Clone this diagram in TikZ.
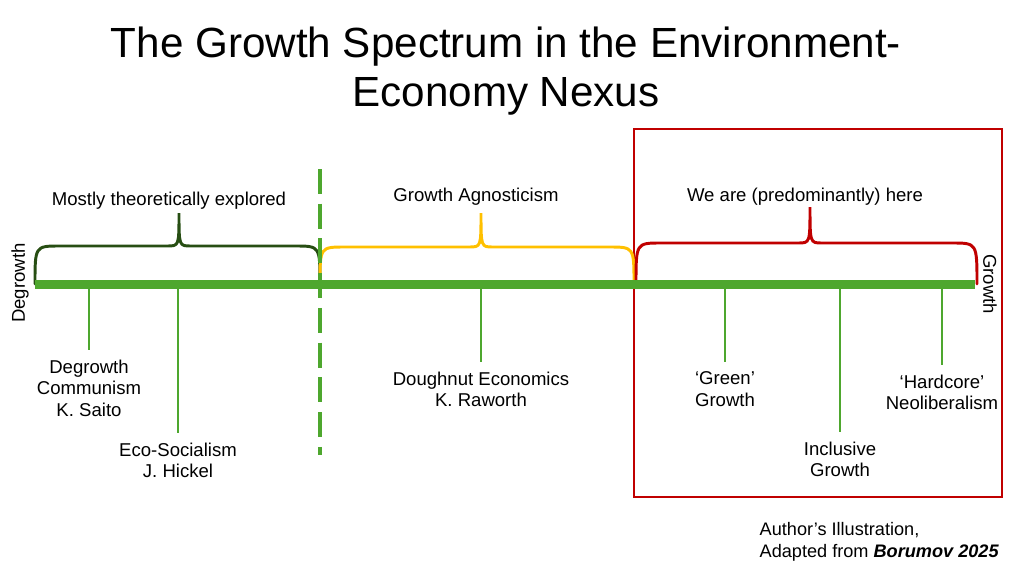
\documentclass[tikz,border=0pt]{standalone}
\usepackage{fontspec}
\setmainfont{Liberation Sans}
\usetikzlibrary{positioning}
\definecolor{axisGreen}{RGB}{78,167,46}
\definecolor{darkGreen}{RGB}{39,78,19}
\definecolor{agnosticYellow}{RGB}{255,192,0}
\definecolor{hereRed}{RGB}{192,0,0}
\tikzstyle{spectrum} = [x = 0.025cm, y = -0.025cm]
\tikzstyle{axisLine} = [color=axisGreen, line width=6.4pt]
\tikzstyle{splitLine} = [color=axisGreen, line width=2.6pt, dash pattern=on 17.7pt off 7pt]
\tikzstyle{tickLine} = [color=axisGreen, line width=1.1pt]
\tikzstyle{braceLine} = [line width=2.1pt, line cap=round]
\tikzstyle{hereBox} = [color=hereRed, line width=1.8pt]
\tikzstyle{labelText} = [font=\fontsize{13.2}{15.4}\selectfont, align=center, inner sep=1pt]
\tikzstyle{titleText} = [font=\fontsize{30}{35.4}\selectfont, align=center]
\newcommand{\spanBrace}[6]{\draw [braceLine, color=#1] (#2,284) .. controls (#2,#5) .. (#2+25,#5) -- (#4-12,#5) .. controls (#4,#5) .. (#4,#6) .. controls (#4,#5) .. (#4+12,#5) -- (#3-25,#5) .. controls (#3,#5) .. (#3,284);}
\newcommand{\tickLabel}[4]{
  \coordinate (#1Tick) at (#2,288);
  \coordinate (#1Top) at (#2,#3);
  \node [labelText, below=0.2cm of #1Top] (#1) {#4};
  \draw [tickLine] (#1Tick) -- (#1Top);
}
\begin{document}
\begin{tikzpicture}[spectrum]
  \useasboundingbox (0,0) rectangle (1012,566);
  \node [titleText] (title) at (506,71) {The Growth Spectrum in the Environment-\\Economy Nexus};

  % spectrum axis
  \coordinate (axisStart) at (35,284);
  \coordinate (axisEnd) at (975,284);
  \coordinate (splitTop) at (320,169);
  \coordinate (splitBottom) at (320,455);
  \draw [hereBox] (634,129) rectangle (1002,497);
  \spanBrace{darkGreen}{35}{320}{179}{246}{213}
  \spanBrace{agnosticYellow}{320}{634}{481}{247}{213}
  \spanBrace{hereRed}{636}{977}{810}{243}{207}
  \draw [axisLine] (axisStart) -- (axisEnd);
  \draw [splitLine] (splitTop) -- (splitBottom);

  \node [labelText] (mostly) at (169,201) {Mostly theoretically explored};
  \node [labelText] (agnostic) at (476,197) {Growth Agnosticism};
  \node [labelText] (here) at (805,197) {We are (predominantly) here};
  \node [labelText, rotate=90] (degrowthEnd) at (20,283) {Degrowth};
  \node [labelText, rotate=-90] (growthEnd) at (990,284) {Growth};

  % positions on the spectrum
  \tickLabel{saito}{89}{350}{Degrowth\\Communism\\K. Saito}
  \tickLabel{hickel}{178}{433}{Eco-Socialism\\J. Hickel}
  \tickLabel{raworth}{481}{362}{Doughnut Economics\\K. Raworth}
  \tickLabel{green}{725}{362}{‘Green’\\Growth}
  \tickLabel{inclusive}{840}{432}{Inclusive\\Growth}
  \tickLabel{hardcore}{942}{365}{‘Hardcore’\\Neoliberalism}

  \node [labelText, font=\fontsize{12.9}{15.4}\selectfont, anchor=west, align=left] (source) at (758,542) {Author’s Illustration,\\Adapted from \textbf{\textit{Borumov 2025}}};
\end{tikzpicture}
\end{document}
